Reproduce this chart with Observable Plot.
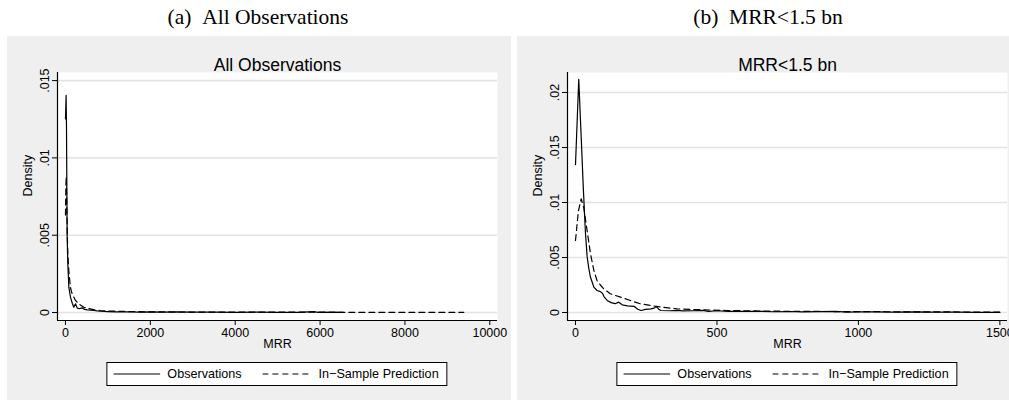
<!DOCTYPE html>
<html><head><meta charset="utf-8">
<script src="https://cdn.jsdelivr.net/npm/d3@7"></script>
<script src="https://cdn.jsdelivr.net/npm/@observablehq/plot@0.6"></script>
<style>
body{margin:0;background:#fff;}
#root{position:relative;width:1009px;height:400px;overflow:hidden;background:#fff;font-family:"Liberation Sans",Arial,sans-serif;color:#000;}
.cap{position:absolute;top:2px;transform:translateX(-50%);font-family:"Liberation Serif","Times New Roman",serif;font-size:21.5px;line-height:30px;white-space:nowrap;}
.panel{position:absolute;top:36px;width:504px;height:364px;}
.panel svg{display:block;max-width:none;}
.legend{position:absolute;top:326px;left:270px;transform:translateX(-50%);height:24px;box-sizing:border-box;border:1px solid #000;background:#fff;display:flex;align-items:center;padding:0 8px 0 6px;font-size:12.6px;white-space:nowrap;}
.legend svg{display:block;}
</style>
</head><body>
<div id="root">
  <div class="cap" id="capA" style="left:258px"></div>
  <div class="cap" id="capB" style="left:768px"></div>
  <div class="panel" id="pa" style="left:7px"></div>
  <div class="panel" id="pb" style="left:517px"></div>
</div>
<script>
// ---- captions / titles ----
const captions = ["(a)\u2002All Observations", "(b)\u2002MRR<1.5 bn"];
const titles = ["All Observations", "MRR<1.5 bn"];
const xLabel = "MRR";
const yLabel = "Density";
const legendLabels = ["Observations", "In\u2212Sample Prediction"];
const legendDash = [null, "6,4"];

// ---- ticks ----
const xTicksA = [0, 2000, 4000, 6000, 8000, 10000];
const yTicksA = [0, 0.005, 0.01, 0.015];
const xTicksB = [0, 500, 1000, 1500];
const yTicksB = [0, 0.005, 0.01, 0.015, 0.02];
const xDomainA = [-188, 10181];
const yDomainA = [-0.000517, 0.015524];
const xDomainB = [-28.3, 1527];
const yDomainB = [-0.000727, 0.021818];

// ---- panel (a): all observations [MRR, density] ----
const obsA = [[0,0.01253],[15,0.01404],[24,0.0120],[39,0.0050],[55,0.00315],[79,0.00164],[118,0.00099],[160,0.0006],[196,0.00034],[236,0.00056],[275,0.00030],[314,0.00024],[393,0.0003],[450,0.0002],[510,0.00017],[600,0.00015],[668,0.00013],[750,0.0001],[825,0.00008],[1000,0.00006],[1200,0.00004],[1500,0.00005],[1700,0.00003],[2000,0.00004],[2300,0.00002],[2600,0.00004],[3000,0.00002],[3500,0.00003],[4000,0.00001],[4500,0.00002],[5000,0.00001],[5500,0.00001],[5850,0.00006],[5950,0.00001],[6300,0.00002],[6550,0.00001]];
const predA = [[0,0.0063],[10,0.0082],[18,0.0088],[30,0.0072],[42,0.0052],[55,0.0038],[79,0.0027],[118,0.0016],[157,0.0012],[236,0.00078],[314,0.00056],[432,0.00034],[550,0.00025],[668,0.00019],[825,0.00013],[1000,0.0001],[1500,0.00006],[2000,0.00004],[3000,0.00003],[4000,0.00002],[5000,0.00002],[6000,0.00002],[7000,0.00001],[8000,0.00001],[9387,0.00001]];

// ---- panel (b): MRR < 1.5 bn ----
const obsB = [[0,0.01345],[11.5,0.0212],[20,0.0160],[28,0.0111],[35,0.0073],[41,0.0051],[47,0.0040],[53,0.0032],[65,0.0023],[76,0.0020],[88,0.0019],[95,0.00175],[102,0.0014],[112,0.0011],[126,0.0009],[140,0.0008],[153,0.00094],[165,0.0007],[184,0.0006],[194,0.00058],[208,0.00055],[220,0.0003],[232,0.00018],[247,0.00028],[267,0.00033],[278,0.0004],[285,0.00055],[294,0.0003],[302,0.00018],[335,0.00016],[359,0.0002],[380,0.00014],[418,0.00016],[450,0.0002],[470,0.00011],[500,0.00016],[540,0.00011],[600,0.0001],[650,0.00011],[700,0.00007],[760,0.00009],[800,0.00005],[860,0.00008],[920,0.0001],[960,0.00004],[1000,0.00006],[1060,0.00005],[1120,0.00003],[1200,0.00006],[1260,0.00003],[1350,0.00003],[1420,0.00002],[1500,0.00002]];
const predB = [[0,0.00655],[10,0.0092],[20,0.01034],[29,0.00957],[35,0.0085],[41,0.00745],[53,0.00533],[65,0.00382],[76,0.00291],[88,0.0025],[100,0.00215],[123,0.0017],[159,0.0014],[194,0.00109],[229,0.00079],[265,0.00064],[300,0.0005],[359,0.00033],[418,0.00027],[535,0.00018],[700,0.00012],[900,0.00009],[1100,0.00007],[1300,0.00005],[1500,0.00004]];

const fmtY = d => d === 0 ? "0" : String(d).replace(/^0\./, ".");

function makePanel(el, cfg) {
  const svg = Plot.plot({
    width: 504, height: 364,
    marginLeft: 50, marginRight: 14, marginTop: 36, marginBottom: 80,
    x: {domain: cfg.xDomain},
    y: {domain: cfg.yDomain},
    style: {background: "#efefef", color: "#000", fontFamily: "Liberation Sans, Arial, sans-serif", fontSize: "12.5px", maxWidth: "none", overflow: "visible"},
    marks: [
      Plot.frame({fill: "#fff", stroke: "none"}),
      Plot.gridY(cfg.yTicks, {stroke: "#e4e4e4", strokeOpacity: 1, strokeWidth: 1.6}),
      Plot.line(cfg.pred, {x: d => d[0], y: d => d[1], stroke: "#000", strokeWidth: 1.2, strokeDasharray: "6,4"}),
      Plot.line(cfg.obs, {x: d => d[0], y: d => d[1], stroke: "#000", strokeWidth: 1.2}),
      Plot.ruleX([cfg.xDomain[0]], {stroke: "#000", strokeWidth: 1.2}),
      Plot.ruleY([cfg.yDomain[0]], {stroke: "#000", strokeWidth: 1.2}),
      Plot.axisX(cfg.xTicks, {tickSize: 5, tickPadding: 3, label: null, tickFormat: d => String(d)}),
      Plot.axisY(cfg.yTicks, {tickSize: 5, tickRotate: -90, label: null, tickFormat: fmtY}),
      Plot.text([cfg.title], {frameAnchor: "top", dy: -14, text: d => d, fontSize: 17.5}),
      Plot.text([yLabel], {frameAnchor: "left", dx: -30, rotate: -90, text: d => d}),
      Plot.text([xLabel], {frameAnchor: "bottom", dy: 27, text: d => d})
    ]
  });
  el.appendChild(svg);
  const lg = document.createElement("div");
  lg.className = "legend";
  legendLabels.forEach((lab, i) => {
    const ns = "http://www.w3.org/2000/svg";
    const s = document.createElementNS(ns, "svg");
    const w = i === 0 ? 47 : 50;
    s.setAttribute("width", w); s.setAttribute("height", 10);
    s.style.marginLeft = i === 0 ? "0px" : "21px";
    s.style.marginRight = i === 0 ? "7px" : "6px";
    const l = document.createElementNS(ns, "line");
    l.setAttribute("x1", 0); l.setAttribute("x2", w); l.setAttribute("y1", 5); l.setAttribute("y2", 5);
    l.setAttribute("stroke", "#000"); l.setAttribute("stroke-width", 1.2);
    if (legendDash[i]) l.setAttribute("stroke-dasharray", legendDash[i]);
    s.appendChild(l);
    lg.appendChild(s);
    const t = document.createElement("span");
    t.textContent = lab;
    lg.appendChild(t);
  });
  el.appendChild(lg);
}

document.getElementById("capA").textContent = captions[0];
document.getElementById("capB").textContent = captions[1];
makePanel(document.getElementById("pa"), {title: titles[0], xDomain: xDomainA, yDomain: yDomainA, xTicks: xTicksA, yTicks: yTicksA, obs: obsA, pred: predA});
makePanel(document.getElementById("pb"), {title: titles[1], xDomain: xDomainB, yDomain: yDomainB, xTicks: xTicksB, yTicks: yTicksB, obs: obsB, pred: predB});
</script>
</body></html>
